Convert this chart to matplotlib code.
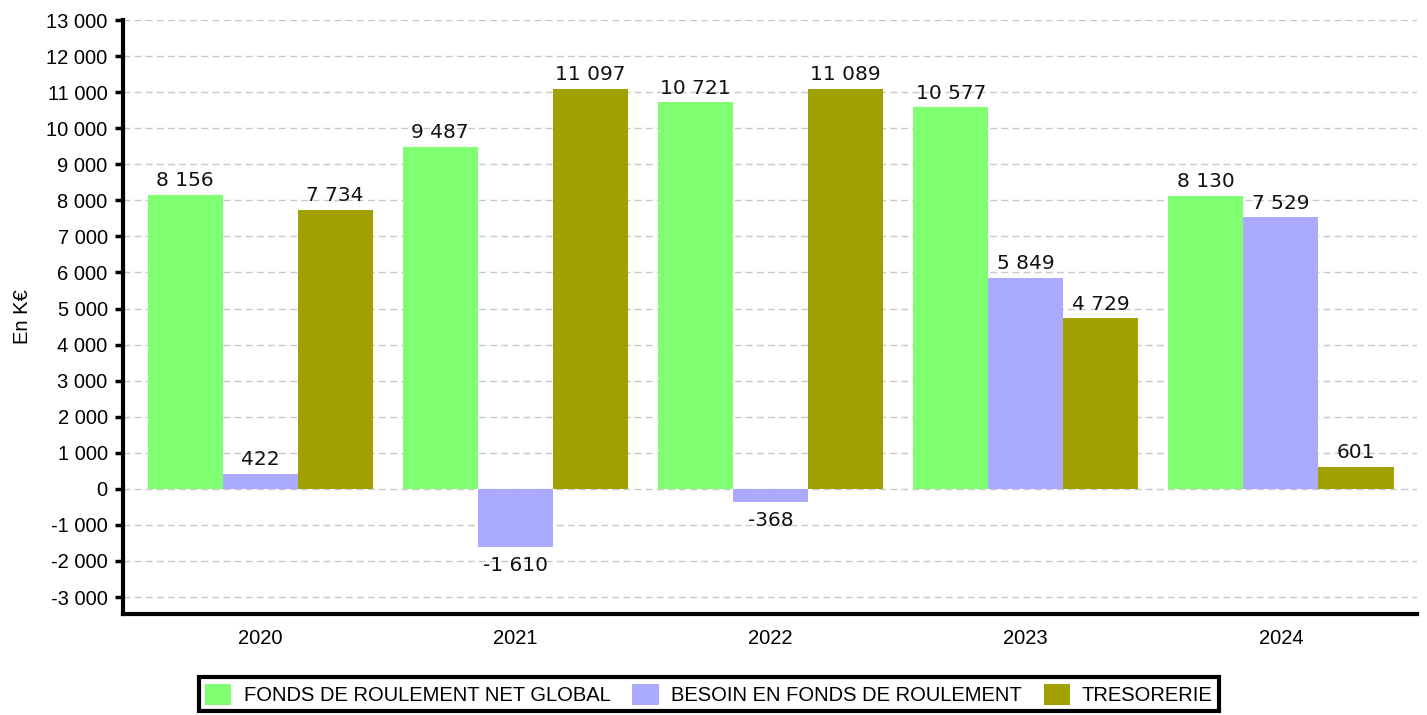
import matplotlib
matplotlib.use("Agg")
import matplotlib.pyplot as plt
import numpy as np
from matplotlib.patches import Patch

years = ["2020", "2021", "2022", "2023", "2024"]
fr_ng = [8156, 9487, 10721, 10577, 8130]
bfr = [422, -1610, -368, 5849, 7529]
treso = [7734, 11097, 11089, 4729, 601]
series_names = ["FONDS DE ROULEMENT NET GLOBAL", "BESOIN EN FONDS DE ROULEMENT", "TRESORERIE"]
colors = ["#80ff72", "#aaaaff", "#a0a000"]
yticks = list(range(-3000, 13001, 1000))

def fmt(v):
    s = f"{abs(v):,}".replace(",", " ")
    return ("-" if v < 0 else "") + s

fig = plt.figure(figsize=(14.27, 7.15), dpi=100)
ax = fig.add_axes([0.0862, 0.1413, 0.9068, 0.8307])

x = np.arange(len(years))
w = 0.294
for i, (vals, c) in enumerate(zip([fr_ng, bfr, treso], colors)):
    xs = x + (i - 1) * w
    ax.bar(xs, vals, width=w, color=c, zorder=3)
    for xi, v in zip(xs, vals):
        if v >= 0:
            ax.text(xi, v + 130, fmt(v), ha="center", va="bottom", fontsize=14.5,
                    family="DejaVu Sans", color="#111111")
        else:
            ax.text(xi, v - 250, fmt(v), ha="center", va="top", fontsize=14.5,
                    family="DejaVu Sans", color="#111111")

ax.set_xlim(-0.537, 4.533)
ax.set_ylim(-3470, 13000)
ax.set_yticks(yticks)
ax.set_yticklabels([fmt(t) for t in yticks], family="Liberation Sans", fontsize=14.5)
ax.set_xticks(x)
ax.set_xticklabels(years, family="Liberation Sans", fontsize=14.5)
ax.tick_params(axis="x", length=0, pad=11)
ax.tick_params(axis="y", length=6, width=2.5, pad=5)
ax.grid(axis="y", linestyle=(0, (5, 3)), color="#c8c8c8", linewidth=1, zorder=0)
for s in ["top", "right"]:
    ax.spines[s].set_visible(False)
for s in ["left", "bottom"]:
    ax.spines[s].set_linewidth(3)
ax.set_ylabel("En K€", family="Liberation Sans", fontsize=14.5, labelpad=10)

handles = [Patch(facecolor=c, edgecolor="none") for c in colors]
leg = fig.legend(handles, series_names, loc="center", bbox_to_anchor=(0.4968, 0.0287),
                 ncol=3, frameon=True, fancybox=False, edgecolor="black", framealpha=1,
                 prop={"family": "Liberation Sans", "size": 14.5},
                 handlelength=1.3, handleheight=1.3, handletextpad=0.6, columnspacing=1.1,
                 borderpad=0.3, borderaxespad=0)
leg.get_frame().set_linewidth(3)

fig.savefig("out.png", dpi=100)
